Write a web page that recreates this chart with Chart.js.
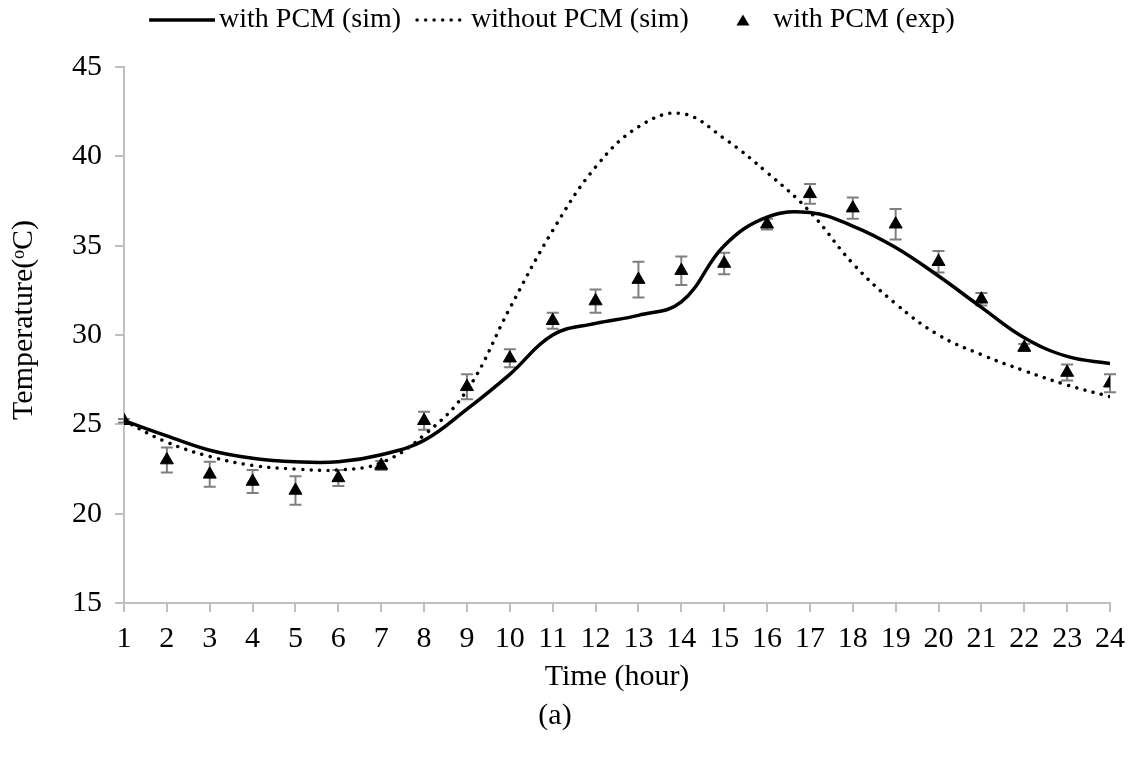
<!DOCTYPE html>
<html>
<head>
<meta charset="utf-8">
<script src="https://cdn.jsdelivr.net/npm/chart.js@4"></script>
<style>
  body { margin: 0; background: #fff; }
  #wrap { width: 1138px; height: 760px; }
</style>
</head>
<body>
<div id="wrap"><canvas id="tempChart" width="1138" height="760"></canvas></div>
<script>
// hours of the day
const hours = [1, 2, 3, 4, 5, 6, 7, 8, 9, 10, 11, 12, 13, 14, 15, 16, 17, 18, 19, 20, 21, 22, 23, 24];

// simulated temperature, with PCM
const simWithPcm = [25.2, 24.35, 23.55, 23.1, 22.9, 22.9, 23.3, 24.1, 25.85, 27.8, 30.0, 30.65,
                    31.1, 31.85, 35.0, 36.6, 36.85, 36.1, 34.9, 33.3, 31.55, 29.85, 28.8, 28.4];

// simulated temperature, without PCM
const simWithoutPcm = [25.2, 24.0, 23.2, 22.7, 22.5, 22.45, 22.85, 24.4, 26.9, 31.5, 35.85, 39.4,
                       41.65, 42.4, 41.0, 39.1, 36.9, 34.0, 31.75, 30.0, 28.9, 28.0, 27.2, 26.55];

// measured temperature, with PCM, and its error
const expWithPcm = [25.2, 23.0, 22.2, 21.8, 21.3, 22.0, 22.7, 25.2, 27.1, 28.7, 30.8, 31.9,
                    33.1, 33.6, 34.0, 36.2, 37.9, 37.1, 36.2, 34.1, 32.0, 29.3, 27.9, 27.3];
const expError = [0.1, 0.7, 0.7, 0.65, 0.8, 0.45, 0.25, 0.5, 0.7, 0.5, 0.45, 0.65,
                  1.0, 0.8, 0.6, 0.3, 0.55, 0.6, 0.85, 0.6, 0.35, 0.2, 0.45, 0.5];

const yTicks = [15, 20, 25, 30, 35, 40, 45];

const seriesNames = ['with PCM (sim)', 'without PCM (sim)\u00a0\u00a0', 'with PCM (exp)'];

const font = "'Liberation Serif', 'Times New Roman', serif";
const axisGrey = '#bfbfbf';
const dots = [0.01, 8.5];

function toPoints(vals) {
    return hours.map((h, i) => ({x: h, y: vals[i]}));
}

// small pictures used as legend keys
function legendKey(kind) {
    const c = document.createElement('canvas');
    c.width = 70; c.height = 16;
    const g = c.getContext('2d');
    g.fillStyle = '#000'; g.strokeStyle = '#000';
    if (kind === 'triangle') {
        g.beginPath();
        g.moveTo(44, 2.5); g.lineTo(50.5, 13.5); g.lineTo(37.5, 13.5);
        g.closePath(); g.fill();
    } else if (kind === 'dots') {
        g.lineWidth = 3.5;
        g.lineCap = 'round';
        g.setLineDash(dots);
        g.beginPath();
        g.moveTo(20, 8); g.lineTo(70, 8);
        g.stroke();
    } else {
        g.lineWidth = 3.5;
        g.beginPath();
        g.moveTo(4, 8); g.lineTo(70, 8);
        g.stroke();
    }
    return c;
}
const keys = [legendKey('line'), legendKey('dots'), legendKey('triangle')];

// error bars drawn under the triangles
const errorBars = {
    id: 'errorBars',
    beforeDatasetsDraw(chart) {
        const ctx = chart.ctx;
        const xs = chart.scales.x, ys = chart.scales.y;
        ctx.save();
        ctx.strokeStyle = '#7f7f7f';
        ctx.lineWidth = 2;
        hours.forEach((h, i) => {
            const px = xs.getPixelForValue(h);
            const top = ys.getPixelForValue(expWithPcm[i] + expError[i]);
            const bot = ys.getPixelForValue(expWithPcm[i] - expError[i]);
            ctx.beginPath();
            ctx.moveTo(px, top); ctx.lineTo(px, bot);
            ctx.moveTo(px - 6, top); ctx.lineTo(px + 6, top);
            ctx.moveTo(px - 6, bot); ctx.lineTo(px + 6, bot);
            ctx.stroke();
        });
        ctx.restore();
    }
};

// push the plot down below the legend
const legendSpace = {
    id: 'legendSpace',
    beforeInit(chart) {
        const fit = chart.legend.fit;
        chart.legend.fit = function () {
            fit.bind(chart.legend)();
            this.height = 67;
        };
    }
};

const data = {
    datasets: [
        {
            label: seriesNames[0],
            data: toPoints(simWithPcm),
            borderColor: '#000',
            borderWidth: 3.5,
            pointRadius: 0,
            tension: 0.4,
            order: 1
        },
        {
            label: seriesNames[1],
            data: toPoints(simWithoutPcm),
            borderColor: '#000',
            borderWidth: 3.5,
            borderDash: dots,
            borderCapStyle: 'round',
            pointRadius: 0,
            tension: 0.4,
            order: 2
        },
        {
            label: seriesNames[2],
            data: toPoints(expWithPcm),
            showLine: false,
            pointStyle: 'triangle',
            pointRadius: 7.5,
            backgroundColor: '#000',
            borderColor: '#000',
            borderWidth: 1,
            order: 0
        }
    ]
};

const config = {
    type: 'line',
    data: data,
    plugins: [errorBars, legendSpace],
    options: {
        responsive: false,
        animation: false,
        devicePixelRatio: 1,
        layout: { padding: { left: 0, right: 28, top: 0, bottom: 0 } },
        plugins: {
            tooltip: { enabled: false },
            legend: {
                position: 'top',
                align: 'center',
                labels: {
                    color: '#000',
                    font: { family: font, size: 28 },
                    usePointStyle: true,
                    pointStyleWidth: 50,
                    boxHeight: 14,
                    padding: 6,
                    generateLabels(chart) {
                        return chart.data.datasets.map((ds, i) => ({
                            text: ds.label,
                            datasetIndex: i,
                            fillStyle: '#000',
                            strokeStyle: '#000',
                            lineWidth: 0,
                            pointStyle: keys[i],
                            fontColor: '#000',
                            hidden: false
                        }));
                    }
                }
            },
            title: {
                display: true,
                position: 'bottom',
                text: '(a)',
                color: '#000',
                font: { family: font, size: 30, weight: 'normal' },
                padding: { top: 3, bottom: 26 }
            }
        },
        scales: {
            x: {
                type: 'linear',
                min: 1,
                max: 24,
                afterBuildTicks(scale) {
                    scale.ticks = hours.map(h => ({value: h}));
                },
                afterFit(scale) { scale.height = 92; },
                ticks: {
                    color: '#000',
                    font: { family: font, size: 30 },
                    padding: 9,
                    maxRotation: 0,
                    autoSkip: false
                },
                grid: {
                    drawOnChartArea: false,
                    color: axisGrey,
                    lineWidth: 2,
                    tickLength: 9
                },
                border: { color: axisGrey, width: 2 },
                title: {
                    display: true,
                    text: 'Time (hour)',
                    color: '#000',
                    font: { family: font, size: 30 },
                    padding: { top: 0, bottom: 0 }
                }
            },
            y: {
                min: 15,
                max: 45,
                afterBuildTicks(scale) {
                    scale.ticks = yTicks.map(v => ({value: v}));
                },
                afterFit(scale) { scale.width = 124; },
                ticks: {
                    color: '#000',
                    font: { family: font, size: 30 },
                    padding: 13
                },
                grid: {
                    drawOnChartArea: false,
                    color: axisGrey,
                    lineWidth: 2,
                    tickLength: 9
                },
                border: { color: axisGrey, width: 2 },
                title: {
                    display: true,
                    text: '\u00a0\u00a0\u00a0\u00a0Temperature(ᵒC)',
                    color: '#000',
                    font: { family: font, size: 30 },
                    padding: { top: 6, bottom: 0 }
                }
            }
        }
    }
};

const tempChart = new Chart(document.getElementById('tempChart').getContext('2d'), config);
</script>
</body>
</html>
